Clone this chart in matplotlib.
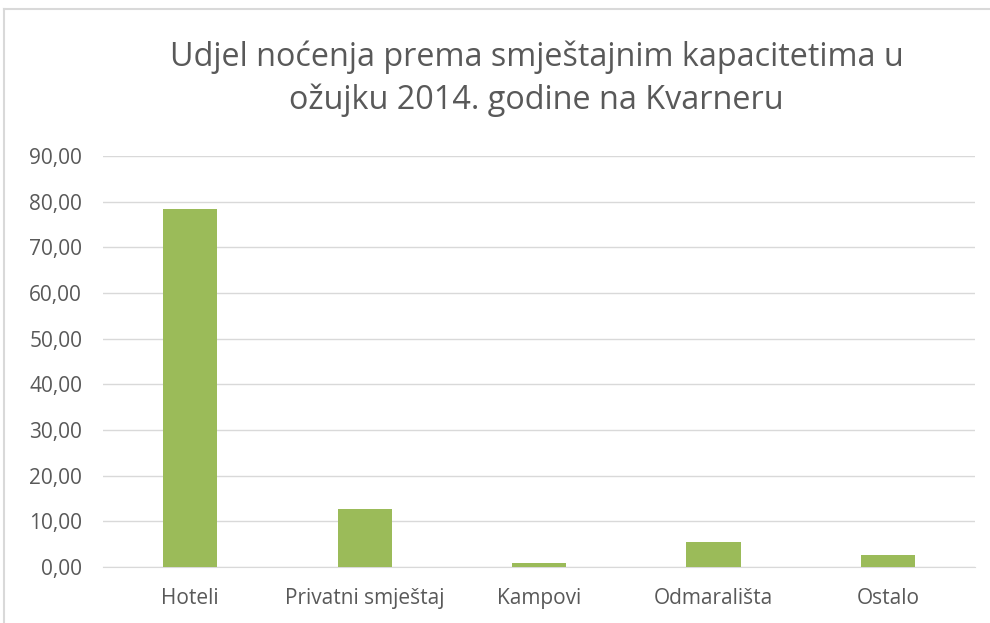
import matplotlib.pyplot as plt
from matplotlib.lines import Line2D

categories = ['Hoteli', 'Privatni smještaj', 'Kampovi', 'Odmarališta', 'Ostalo']
values = [78.4, 12.7, 0.9, 5.4, 2.6]
yticks = [0, 10, 20, 30, 40, 50, 60, 70, 80, 90]

plt.rcParams['font.family'] = ['Open Sans', 'DejaVu Sans']

fig = plt.figure(figsize=(9.9, 6.23), dpi=100)
ax = fig.add_axes([0.104, 0.0899, 0.881, 0.6597])

x = range(len(categories))
ax.bar(x, values, width=0.31, color='#9bbb59', zorder=3)
ax.set_xlim(-0.5, len(categories) - 0.5)
ax.set_ylim(0, 90)
ax.set_yticks(yticks)
ax.set_yticklabels([f'{v:.2f}'.replace('.', ',') for v in yticks])
ax.set_xticks(list(x))
ax.set_xticklabels(categories)
ax.grid(axis='y', color='#d9d9d9', linewidth=1, zorder=0)
for s in ['top', 'right', 'left']:
    ax.spines[s].set_visible(False)
ax.spines['bottom'].set_color('#d9d9d9')
ax.tick_params(length=0, labelsize=15, colors='#595959', pad=15)
ax.tick_params(axis='y', pad=15)

fig.text(0.542, 0.874, 'Udjel noćenja prema smještajnim kapacitetima u\nožujku 2014. godine na Kvarneru',
         ha='center', va='center', fontsize=23.3, color='#595959', linespacing=1.36)

# chart frame
fig.add_artist(Line2D([0.004, 1.0], [0.985, 0.985], color='#d9d9d9', lw=1.5, transform=fig.transFigure))
fig.add_artist(Line2D([0.004, 0.004], [0.0, 0.985], color='#d9d9d9', lw=1.5, transform=fig.transFigure))

fig.savefig('out.png', dpi=100, facecolor='white')
